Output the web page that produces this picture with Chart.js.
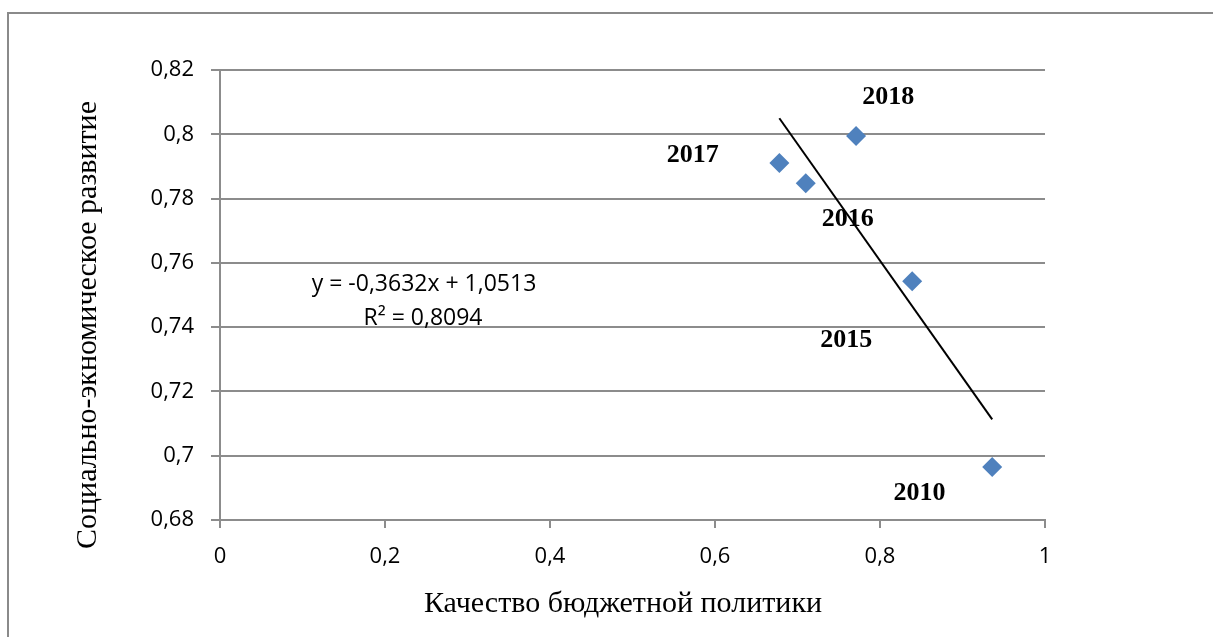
<!DOCTYPE html>
<html>
<head>
<meta charset="utf-8">
<script src="https://cdn.jsdelivr.net/npm/chart.js@4.4.1/dist/chart.umd.min.js"></script>
<style>
  body { margin: 0; background: #fff; }
  #wrap { position: relative; width: 1213px; height: 637px; overflow: hidden; }
  #frame { position: absolute; left: 7px; top: 12px; width: 1300px; height: 700px;
           border-left: 2px solid #8a8a8a; border-top: 2px solid #8a8a8a; }
  canvas { position: absolute; left: 0; top: 0; }
</style>
</head>
<body>
<div id="wrap">
  <div id="frame"></div>
  <canvas id="chart" width="1213" height="637"></canvas>
</div>
<script>
// точки (качество бюджетной политики, социально-экономическое развитие)
const pointsX = [0.678, 0.710, 0.771, 0.839, 0.936];
const pointsY = [0.7911, 0.7848, 0.7995, 0.7543, 0.6965];

// линия тренда (концы)
const trendX = [0.678, 0.936];
const trendY = [0.8050, 0.7113];

// подписи годов
const yearLabels = ['2018', '2017', '2016', '2015', '2010'];
const yearX = [0.810, 0.573, 0.761, 0.759, 0.848];
const yearY = [0.8116, 0.7936, 0.7736, 0.7360, 0.6884];

const equationLines = ['y = -0,3632x + 1,0513', 'R² = 0,8094'];

const xTitle = 'Качество бюджетной политики';
const yTitle = 'Социально-экномическое развитие';

const gridColor = '#8c8c8c';
const tickFont = { family: 'Open Sans', size: 22 };

function fmt(v) {
    return String(Math.round(v * 100) / 100).replace('.', ',');
}

const textPlugin = {
    id: 'texts',
    afterDraw(chart) {
        const ctx = chart.ctx;
        const xs = chart.scales.x, ys = chart.scales.y;
        ctx.save();
        ctx.fillStyle = '#000';
        ctx.textAlign = 'center';
        ctx.textBaseline = 'middle';

        // годы
        ctx.font = 'bold 26px "Liberation Serif"';
        yearLabels.forEach((t, i) => {
            ctx.fillText(t, xs.getPixelForValue(yearX[i]), ys.getPixelForValue(yearY[i]));
        });

        // уравнение тренда
        ctx.font = '23px "Open Sans"';
        ctx.fillText(equationLines[0], 424, 284);
        ctx.fillText(equationLines[1], 423, 318);

        // подписи осей
        ctx.font = '30px "Liberation Serif"';
        ctx.fillText(xTitle, 623, 604);
        ctx.translate(88, 325);
        ctx.rotate(-Math.PI / 2);
        ctx.fillText(yTitle, 0, 0);
        ctx.restore();
    }
};

new Chart(document.getElementById('chart'), {
    type: 'scatter',
    data: {
        datasets: [
            {
                label: 'Годы',
                data: pointsX.map((x, i) => ({ x: x, y: pointsY[i] })),
                pointStyle: 'rectRot',
                pointRadius: 10,
                pointHoverRadius: 10,
                backgroundColor: '#4F81BD',
                borderColor: '#4F81BD',
                borderWidth: 0
            },
            {
                label: 'Тренд',
                data: trendX.map((x, i) => ({ x: x, y: trendY[i] })),
                showLine: true,
                pointRadius: 0,
                borderColor: '#000',
                borderWidth: 2
            }
        ]
    },
    options: {
        responsive: false,
        animation: false,
        layout: { padding: { left: 0, top: 70, right: 168, bottom: 0 } },
        plugins: {
            legend: { display: false },
            tooltip: { enabled: false }
        },
        scales: {
            x: {
                type: 'linear',
                min: 0,
                max: 1,
                afterFit(scale) { scale.height = 117; },
                border: { color: gridColor, width: 2 },
                grid: { drawOnChartArea: false, drawTicks: true, tickLength: 8, color: gridColor, lineWidth: 2 },
                ticks: { stepSize: 0.2, padding: 16, color: '#000', font: tickFont, maxRotation: 0, callback: fmt }
            },
            y: {
                min: 0.68,
                max: 0.82,
                afterFit(scale) { scale.width = 220; },
                border: { color: gridColor, width: 2 },
                grid: { drawTicks: true, tickLength: 9, color: gridColor, lineWidth: 2 },
                ticks: { stepSize: 0.02, padding: 17, color: '#000', font: tickFont, callback: fmt }
            }
        }
    },
    plugins: [textPlugin]
});
</script>
</body>
</html>
